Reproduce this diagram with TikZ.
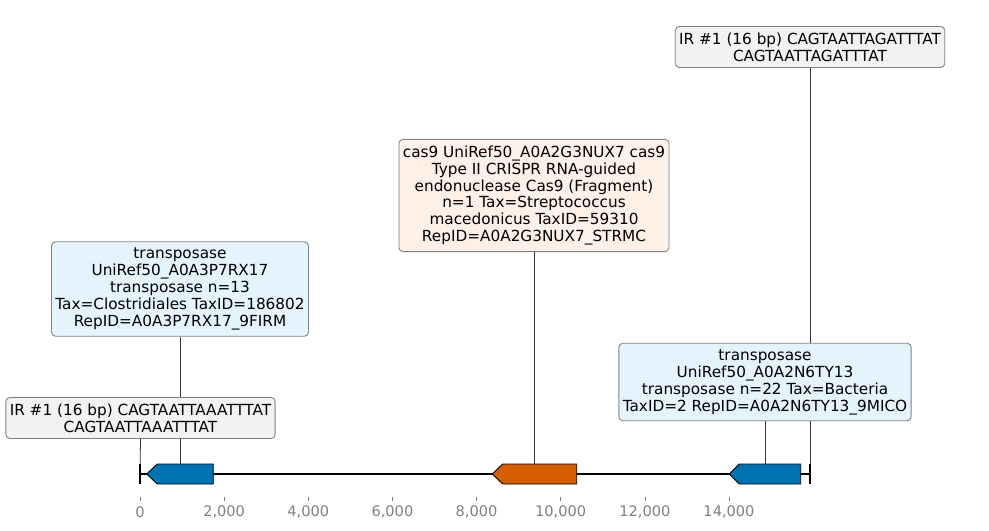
\documentclass[tikz,border=0pt]{standalone}
\usepackage{fontspec}
\setmainfont{DejaVu Sans}
\usetikzlibrary{backgrounds}
\definecolor{geneblue}{RGB}{0,114,178}
\definecolor{geneorange}{RGB}{213,94,0}
\definecolor{irfill}{RGB}{242,242,242}
\definecolor{tnpfill}{RGB}{229,244,252}
\definecolor{casfill}{RGB}{253,240,230}

\begin{document}
\begin{tikzpicture}[x=0.02cm, y=-0.02cm]
\tikzset{
    mybox/.style={rectangle, rounded corners=2.3pt, draw=gray, line width=0.5pt, align=center, inner xsep=2.2pt, inner ysep=3.5pt, font=\fontsize{8.7}{9.65}\selectfont},
    mygene/.style={draw=black, line width=0.5pt},
    myline/.style={draw=black!80, line width=0.45pt},
    myticklabel/.style={text=gray, font=\fontsize{8.3}{9}\selectfont}
}
\useasboundingbox (0,0) rectangle (989,530);

% annotation boxes, centred over their features
\node[mybox, fill=irfill] (irleft) at (140.5,418) {IR \#1 (16 bp) CAGTAATTAAATTTAT\\CAGTAATTAAATTTAT};
\node[mybox, fill=tnpfill] (tnpone) at (180,289) {transposase\\UniRef50\_A0A3P7RX17\\transposase n=13\\Tax=Clostridiales TaxID=186802\\RepID=A0A3P7RX17\_9FIRM};
\node[mybox, fill=casfill] (casnine) at (534,195.5) {cas9 UniRef50\_A0A2G3NUX7 cas9\\Type II CRISPR RNA-guided\\endonuclease Cas9 (Fragment)\\n=1 Tax=Streptococcus\\macedonicus TaxID=59310\\RepID=A0A2G3NUX7\_STRMC};
\node[mybox, fill=irfill] (irright) at (810,47) {IR \#1 (16 bp) CAGTAATTAGATTTAT\\CAGTAATTAGATTTAT};
\node[mybox, fill=tnpfill] (tnptwo) at (765,382) {transposase\\UniRef50\_A0A2N6TY13\\transposase n=22 Tax=Bacteria\\TaxID=2 RepID=A0A2N6TY13\_9MICO};

% feature positions on the sequence
\coordinate (irleftpos) at (140,474);
\coordinate (tnponepos) at (180,464);
\coordinate (casninepos) at (534,464);
\coordinate (tnptwopos) at (765,464);
\coordinate (irrightpos) at (810,464);

\begin{scope}[on background layer]
\draw[myline] (irleft.south) -- (irleftpos);
\draw[myline] (tnpone.south) -- (tnponepos);
\draw[myline] (casnine.south) -- (casninepos);
\draw[myline] (tnptwo.south) -- (tnptwopos);
\draw[myline] (irright.south) -- (irrightpos);
\end{scope}

% sequence line and genes
\draw[line width=1.1pt] (140,474) -- (810,474);
\draw[line width=1.1pt] (140,464) -- (140,484);
\draw[line width=1.1pt] (810,464) -- (810,484);
\draw[mygene, fill=geneblue] (146.7,474) -- (157.3,464) -- (213.3,464) -- (213.3,484) -- (157.3,484) -- cycle;
\draw[mygene, fill=geneorange] (492.3,474) -- (502.7,464) -- (576.7,464) -- (576.7,484) -- (502.7,484) -- cycle;
\draw[mygene, fill=geneblue] (729.3,474) -- (739.3,464) -- (800.7,464) -- (800.7,484) -- (739.3,484) -- cycle;

% axis
\foreach \k/\lab in {0/0, 1/{2,000}, 2/{4,000}, 3/{6,000}, 4/{8,000}, 5/{10,000}, 6/{12,000}, 7/{14,000}}
{
    \draw[gray, line width=0.4pt] ({140+\k*84.14},497) -- ({140+\k*84.14},501);
    \node[myticklabel] at ({140+\k*84.14},512) {\lab};
}
\end{tikzpicture}
\end{document}
